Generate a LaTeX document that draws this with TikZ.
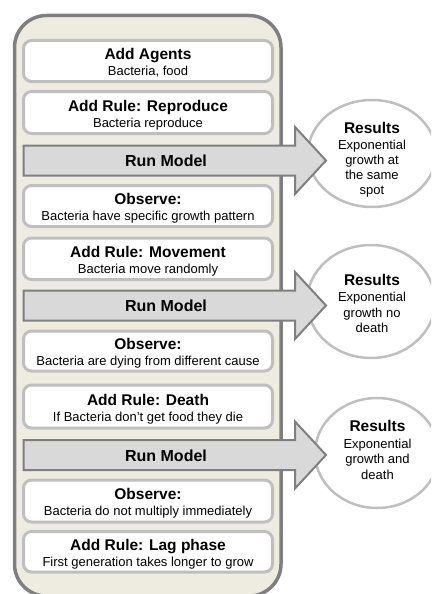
\documentclass[tikz,border=0pt]{standalone}
\usepackage{fontspec}
\setmainfont{Liberation Sans}
\usetikzlibrary{shapes.geometric}
\definecolor{beigefill}{HTML}{EEECE1}
\definecolor{frameline}{HTML}{7F7F7F}
\definecolor{boxline}{HTML}{BFBFBF}
\definecolor{arrowfill}{HTML}{D9D9D9}
\tikzset{
  frame/.style={draw=frameline, line width=3.5pt, fill=beigefill, rounded corners=32pt},
  stepbox/.style={draw=boxline, line width=3pt, fill=white, rounded corners=8pt,
    minimum width=249pt, inner sep=0pt},
  runarrow/.style={draw=frameline, line width=2pt, fill=arrowfill, line join=miter},
  resultcirc/.style={ellipse, draw=boxline, line width=2.5pt, fill=white, inner sep=0pt},
  ttl/.style={anchor=base, inner sep=0pt, font=\fontsize{15.5}{18}\selectfont\bfseries},
  sub/.style={anchor=base, inner sep=0pt, font=\fontsize{13}{15}\selectfont},
  runtxt/.style={anchor=base, inner sep=0pt, font=\fontsize{16}{19}\selectfont\bfseries},
}
\begin{document}
\begin{tikzpicture}[x=1pt,y=-1pt]
\useasboundingbox (0,0) rectangle (431,594);
\clip (0,0) rectangle (431,594);

% outer container
\draw[frame] (14.5,15.5) rectangle (281,596);

% result circles
\node[resultcirc, minimum width=128pt, minimum height=107pt] (c1) at (372,153.5) {};
\node[resultcirc, minimum width=128pt, minimum height=113pt] (c2) at (371,301.5) {};
\node[resultcirc, minimum width=124pt, minimum height=110pt] (c3) at (377,453) {};

% step boxes
\node[stepbox, minimum height=41pt] (b1) at (148,61) {};
\node[stepbox, minimum height=42pt] (b2) at (148,112.5) {};
\node[stepbox, minimum height=41pt] (b3) at (148,206) {};
\node[stepbox, minimum height=41.5pt] (b4) at (148,258.75) {};
\node[stepbox, minimum height=40pt] (b5) at (148,351) {};
\node[stepbox, minimum height=43pt] (b6) at (148,406.5) {};
\node[stepbox, minimum height=42pt] (b7) at (148,501) {};
\node[stepbox, minimum height=40.5pt] (b8) at (148,551.75) {};

\node[ttl] (b1t) at (148,59.5) {Add Agents};
\node[sub] (b1s) at (148,75.5) {Bacteria, food};
\node[ttl] (b2t) at (148,111) {Add Rule: Reproduce};
\node[sub] (b2s) at (148,127) {Bacteria reproduce};
\node[ttl] (b3t) at (148,204.5) {Observe:};
\node[sub] (b3s) at (148,220.5) {Bacteria have specific growth pattern};
\node[ttl] (b4t) at (148,257.25) {Add Rule: Movement};
\node[sub] (b4s) at (148,273.25) {Bacteria move randomly};
\node[ttl] (b5t) at (148,349.5) {Observe:};
\node[sub] (b5s) at (148,365.5) {Bacteria are dying from different cause};
\node[ttl] (b6t) at (148,405) {Add Rule: Death};
\node[sub] (b6s) at (148,421) {If Bacteria don’t get food they die};
\node[ttl] (b7t) at (148,499.5) {Observe:};
\node[sub] (b7s) at (148,515.5) {Bacteria do not multiply immediately};
\node[ttl] (b8t) at (148,550.25) {Add Rule: Lag phase};
\node[sub] (b8s) at (148,566.25) {First generation takes longer to grow};

% run model arrows
\foreach \c/\n in {160.5/r1, 305.5/r2, 455/r3}{
  \draw[runarrow] (23.5,\c-15) -- (295,\c-15) -- (295,\c-33.5) -- (326,\c)
     -- (295,\c+33.5) -- (295,\c+15) -- (23.5,\c+15) -- cycle;
  \node[runtxt] (\n) at (166,\c+6) {Run Model};
}

% results texts
\node[ttl] (c1a) at (372,133) {Results};
\node[sub] (c1b) at (372,149) {Exponential};
\node[sub] (c1c) at (372,164) {growth at};
\node[sub] (c1d) at (372,179) {the same};
\node[sub] (c1e) at (372,194) {spot};

\node[ttl] (c2a) at (372,285) {Results};
\node[sub] (c2b) at (372,301.5) {Exponential};
\node[sub] (c2c) at (372,317) {growth no};
\node[sub] (c2d) at (372,332.5) {death};

\node[ttl] (c3a) at (377.5,431.5) {Results};
\node[sub] (c3b) at (377.5,448) {Exponential};
\node[sub] (c3c) at (377.5,463) {growth and};
\node[sub] (c3d) at (377.5,479) {death};
\end{tikzpicture}
\end{document}
